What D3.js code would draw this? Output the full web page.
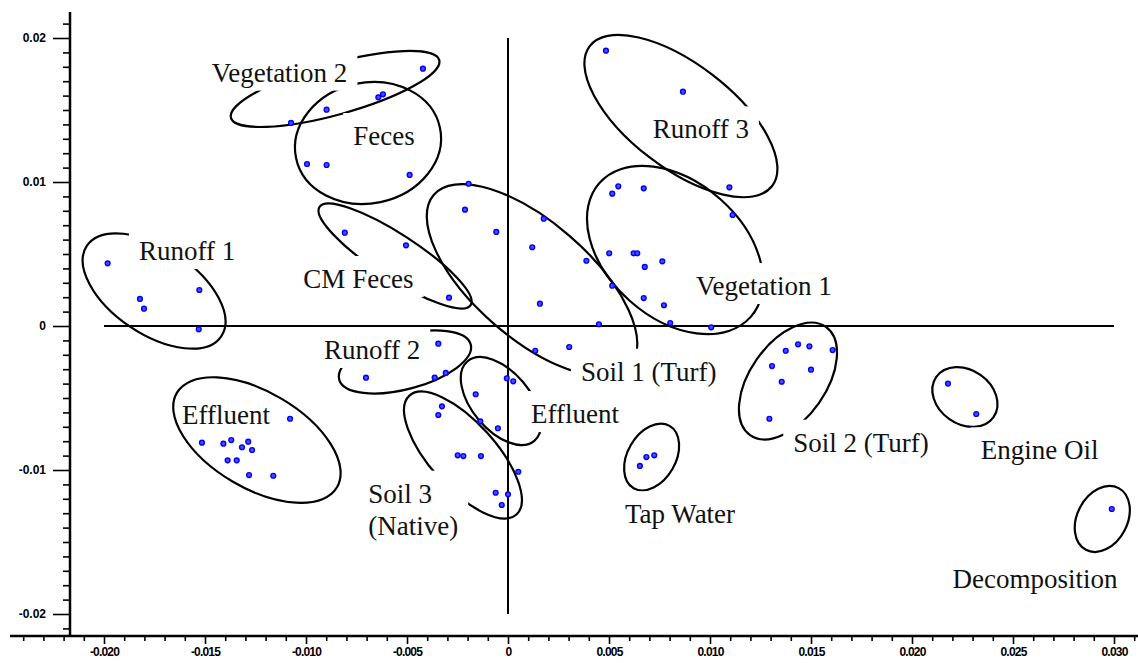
<!DOCTYPE html>
<html><head><meta charset="utf-8">
<script src="https://cdn.jsdelivr.net/npm/d3@7"></script>
<style>body{margin:0;background:#fff} svg{display:block}</style>
</head><body>
<svg id="c" width="1138" height="663"></svg>
<script>
// ---------- DATA ----------
const groupNames = ["Runoff 1","Effluent","Vegetation 2","Feces","CM Feces","Soil 1 (Turf)","Vegetation 1","Runoff 3","Runoff 2","Effluent","Soil 3 (Native)","Tap Water","Soil 2 (Turf)","Engine Oil","Decomposition"];

const runoff1X = [-0.01982,-0.01822,-0.01802,-0.01528,-0.01531];
const runoff1Y = [0.00435,0.00188,0.00120,0.00250,-0.00023];
const effluentLX = [-0.01079,-0.01515,-0.01409,-0.01370,-0.01286,-0.01317,-0.01267,-0.01388,-0.01343,-0.01282,-0.01162];
const effluentLY = [-0.00644,-0.00810,-0.00817,-0.00792,-0.00803,-0.00842,-0.00861,-0.00933,-0.00933,-0.01035,-0.01040];
const veg2X = [-0.01074,-0.00898,-0.00642,-0.00619,-0.00421];
const veg2Y = [0.01410,0.01502,0.01588,0.01609,0.01787];
const fecesX = [-0.00995,-0.00898,-0.00487];
const fecesY = [0.01125,0.01118,0.01049];
const cmFecesX = [-0.00808,-0.00505,-0.00292];
const cmFecesY = [0.00648,0.00560,0.00197];
const soil1X = [-0.00195,-0.00213,-0.00058,0.00177,0.00120,0.00388,0.00158,0.00450,0.00516,0.00135,0.00303];
const soil1Y = [0.00988,0.00808,0.00653,0.00745,0.00547,0.00453,0.00155,0.00012,0.00280,-0.00172,-0.00146];
const veg1X = [0.01112,0.00546,0.00516,0.00672,0.00501,0.00622,0.00640,0.00764,0.00677,0.00672,0.00772,0.00803,0.01006];
const veg1Y = [0.00771,0.00970,0.00919,0.00956,0.00505,0.00505,0.00505,0.00449,0.00410,0.00194,0.00144,0.00021,-0.00009];
const runoff3X = [0.00485,0.00866,0.01096];
const runoff3Y = [0.01912,0.01627,0.00963];
const runoff2X = [-0.00345,-0.00703,-0.00363,-0.00308];
const runoff2Y = [-0.00123,-0.00359,-0.00359,-0.00326];
const effluentMX = [-0.00006,0.00026,-0.00160,-0.00137,-0.00050];
const effluentMY = [-0.00363,-0.00384,-0.00474,-0.00662,-0.00710];
const soil3X = [-0.00327,-0.00345,-0.00249,-0.00221,-0.00134,0.00051,-0.00061,0.00000,-0.00031];
const soil3Y = [-0.00558,-0.00618,-0.00898,-0.00903,-0.00903,-0.01012,-0.01158,-0.01169,-0.01243];
const tapX = [0.00653,0.00685,0.00724];
const tapY = [-0.00972,-0.00910,-0.00898];
const soil2X = [0.01307,0.01375,0.01436,0.01492,0.01607,0.01500,0.01355,0.01294];
const soil2Y = [-0.00278,-0.00172,-0.00127,-0.00141,-0.00167,-0.00303,-0.00387,-0.00644];
const oilX = [0.02178,0.02318];
const oilY = [-0.00400,-0.00611];
const decompX = [0.02989];
const decompY = [-0.01271];

const groupX = [runoff1X,effluentLX,veg2X,fecesX,cmFecesX,soil1X,veg1X,runoff3X,runoff2X,effluentMX,soil3X,tapX,soil2X,oilX,decompX];
const groupY = [runoff1Y,effluentLY,veg2Y,fecesY,cmFecesY,soil1Y,veg1Y,runoff3Y,runoff2Y,effluentMY,soil3Y,tapY,soil2Y,oilY,decompY];

// group ellipses (centre in data units, semi-axes in x-data units, rotation in degrees)
const ellCX = [-0.01752,-0.01243,-0.00856,-0.00693,-0.00559,0.00119,0.00827,0.00856,-0.00510,-0.00035,-0.00223,0.00711,0.01386,0.02262,0.02942];
const ellCY = [0.00243,-0.00792,0.01646,0.01271,0.00486,0.00319,0.00528,0.01458,-0.00250,-0.00521,-0.00896,-0.00910,-0.00382,-0.00493,-0.01340];
const ellA  = [0.00401,0.00460,0.00535,0.00364,0.00446,0.00644,0.00500,0.00569,0.00337,0.00257,0.00396,0.00178,0.00327,0.00173,0.00173];
const ellB  = [0.00213,0.00238,0.00127,0.00299,0.00109,0.00287,0.00337,0.00257,0.00134,0.00144,0.00163,0.00119,0.00188,0.00134,0.00124];
const ellRot = [34,30.5,-15.5,-12,33,41,41.5,37.5,-15,50,48,-60,-55,35,-62];

// label anchors (left, baseline) in data units
const labelText = [["Runoff 1"],["Effluent"],["Vegetation 2"],["Feces"],["CM Feces"],["Soil 1 (Turf)"],["Vegetation 1"],["Runoff 3"],["Runoff 2"],["Effluent"],["Soil 3","(Native)"],["Tap Water"],["Soil 2 (Turf)"],["Engine Oil"],["Decomposition"]];
const labelX = [-0.01827,-0.01614,-0.01467,-0.00766,-0.01013,0.00361,0.00931,0.00716,-0.00911,0.00114,-0.00692,0.00579,0.01412,0.02340,0.02201];
const labelY = [0.00458,-0.00681,0.01697,0.01257,0.00264,-0.00380,0.00215,0.01303,-0.00229,-0.00674,-0.01227,-0.01370,-0.00873,-0.00926,-0.01818];
const labelBg = [true,false,true,true,true,true,true,true,true,true,true,true,true,true,true];

const xMajor = [-0.020,-0.015,-0.010,-0.005,0,0.005,0.010,0.015,0.020,0.025,0.030];
const xMajorLabels = ["-0.020","-0.015","-0.010","-0.005","0","0.005","0.010","0.015","0.020","0.025","0.030"];
const yMajor = [0.02,0.01,0,-0.01,-0.02];
const yMajorLabels = ["0.02","0.01","0","-0.01","-0.02"];

// ---------- CHART ----------
const svg = d3.select("#c");
const x = d3.scaleLinear().domain([-0.02,0.03]).range([104,1114]);
const y = d3.scaleLinear().domain([-0.02,0.02]).range([614,38]);
const pxPerX = x(1)-x(0);

const xMinor = d3.range(-24,32).map(i=>i/1000).filter(v=>!xMajor.some(m=>Math.abs(m-v)<1e-9));
const yMinor = d3.range(-21,22).map(i=>i/1000).filter(v=>!yMajor.some(m=>Math.abs(m-v)<1e-9));

const axisY0 = 636, axisX0 = 70;

// y axis
const gy = svg.append("g").attr("transform",`translate(${axisX0},0)`);
gy.call(d3.axisLeft(y).tickValues(yMinor).tickSize(7).tickFormat(""));
gy.call(g=>g.select(".domain").remove());
const gy2 = svg.append("g").attr("transform",`translate(${axisX0},0)`);
gy2.call(d3.axisLeft(y).tickValues(yMajor).tickSize(17).tickPadding(7).tickFormat((d,i)=>yMajorLabels[i]));
gy2.call(g=>g.select(".domain").remove());
svg.append("line").attr("x1",axisX0).attr("x2",axisX0).attr("y1",12).attr("y2",axisY0).attr("stroke","#000").attr("stroke-width",2.5);

// x axis
const gx = svg.append("g").attr("transform",`translate(0,${axisY0})`);
gx.call(d3.axisBottom(x).tickValues(xMinor).tickSize(5).tickFormat(""));
gx.call(g=>g.select(".domain").remove());
const gx2 = svg.append("g").attr("transform",`translate(0,${axisY0})`);
gx2.call(d3.axisBottom(x).tickValues(xMajor).tickSize(8).tickPadding(3).tickFormat((d,i)=>xMajorLabels[i]));
gx2.call(g=>g.select(".domain").remove());
svg.append("line").attr("x1",10).attr("x2",1138).attr("y1",axisY0).attr("y2",axisY0).attr("stroke","#000").attr("stroke-width",2.5);

svg.selectAll(".tick line").attr("stroke","#000").attr("stroke-width",1.6);
gy2.selectAll("text").attr("font-family","Liberation Sans, Arial, sans-serif").attr("font-size",12).attr("font-weight","bold").attr("fill","#000");
gx2.selectAll("text").attr("font-family","Liberation Sans, Arial, sans-serif").attr("font-size",12).attr("font-weight","bold").attr("letter-spacing","-0.8px").attr("fill","#000");

// origin cross lines
svg.append("line").attr("x1",x(-0.02)).attr("x2",x(0.03)).attr("y1",y(0)).attr("y2",y(0)).attr("stroke","#000").attr("stroke-width",2);
svg.append("line").attr("x1",x(0)).attr("x2",x(0)).attr("y1",y(0.02)).attr("y2",y(-0.02)).attr("stroke","#000").attr("stroke-width",2);

// ellipses
const ell = svg.append("g");
groupNames.forEach((n,i)=>{
  ell.append("ellipse")
    .attr("cx",0).attr("cy",0)
    .attr("rx",ellA[i]*pxPerX).attr("ry",ellB[i]*pxPerX)
    .attr("transform",`translate(${x(ellCX[i])},${y(ellCY[i])}) rotate(${ellRot[i]})`)
    .attr("fill","none").attr("stroke","#000").attr("stroke-width",2.2);
});

// labels
const lab = svg.append("g");
groupNames.forEach((n,i)=>{
  const g = lab.append("g");
  const rect = g.append("rect").attr("fill","#fff");
  const t = g.append("text")
    .attr("font-family","Liberation Serif, Times New Roman, serif")
    .attr("font-size",27).attr("fill","#111");
  labelText[i].forEach((s,k)=>{
    t.append("tspan").attr("x",x(labelX[i])).attr("y",y(labelY[i])+k*32).text(s);
  });
  if(labelBg[i]){
    const b = t.node().getBBox();
    rect.attr("x",b.x-10).attr("y",b.y-8).attr("width",b.width+20).attr("height",b.height+11);
  } else rect.remove();
});

// points
const pts = svg.append("g");
groupNames.forEach((n,i)=>{
  pts.selectAll(null).data(d3.range(groupX[i].length)).enter().append("circle")
    .attr("cx",k=>x(groupX[i][k])).attr("cy",k=>y(groupY[i][k]))
    .attr("r",2.4).attr("fill","#4d4dff").attr("stroke","#0000ff").attr("stroke-width",1.4);
});
</script>
</body></html>
